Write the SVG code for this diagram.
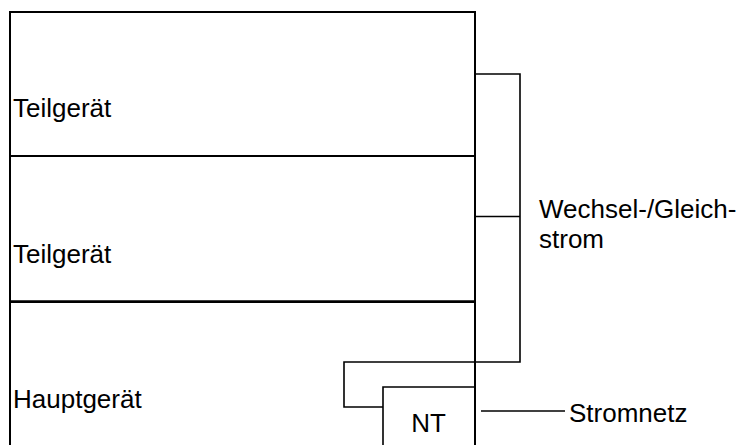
<svg xmlns="http://www.w3.org/2000/svg" width="744" height="445" viewBox="0 0 744 445">
  <style>
    .box { fill: #ffffff; stroke: #000000; stroke-width: 2; }
    .wire { fill: none; stroke: #000000; stroke-width: 1.6; }
    .lbl { font-family: "Liberation Sans", Arial, sans-serif; font-size: 26px; fill: #000000; }
  </style>
  <rect width="744" height="445" fill="#ffffff"/>

  <!-- sub-unit 1 -->
  <g id="teilgeraet-1">
    <rect class="box" x="10" y="12" width="465" height="144"/>
    <text class="lbl" x="13" y="117" font-family="Liberation Sans, Arial, sans-serif" font-size="26">Teilgerät</text>
  </g>

  <!-- sub-unit 2 -->
  <g id="teilgeraet-2">
    <rect class="box" x="10" y="156" width="465" height="145.5"/>
    <text class="lbl" x="13" y="263" font-family="Liberation Sans, Arial, sans-serif" font-size="26">Teilgerät</text>
  </g>

  <!-- main unit, open towards the bottom edge -->
  <g id="hauptgeraet">
    <path class="box" d="M10,447 V301.5 H475 V447"/>
    <line x1="10" y1="302.5" x2="475" y2="302.5" stroke="#000" stroke-width="1"/>
    <text class="lbl" x="13" y="408" font-family="Liberation Sans, Arial, sans-serif" font-size="26">Hauptgerät</text>
  </g>

  <!-- power supply unit inside the main unit -->
  <g id="nt">
    <path class="wire" d="M383,447 V387 H475"/>
    <text class="lbl" x="428.5" y="431.5" text-anchor="middle" font-family="Liberation Sans, Arial, sans-serif" font-size="25">NT</text>
  </g>

  <!-- supply wiring -->
  <g id="connectors">
    <path class="wire" d="M475,74 H520 V362 H344 V407 H383"/>
    <line class="wire" x1="475" y1="216.5" x2="520" y2="216.5"/>
    <line class="wire" x1="481" y1="411" x2="565" y2="411"/>
    <text class="lbl" x="539" y="218" font-family="Liberation Sans, Arial, sans-serif" font-size="25.5">Wechsel-/Gleich-</text>
    <text class="lbl" x="539" y="248" font-family="Liberation Sans, Arial, sans-serif" font-size="25.5">strom</text>
    <text class="lbl" x="569" y="422" font-family="Liberation Sans, Arial, sans-serif" font-size="26">Stromnetz</text>
  </g>
</svg>
